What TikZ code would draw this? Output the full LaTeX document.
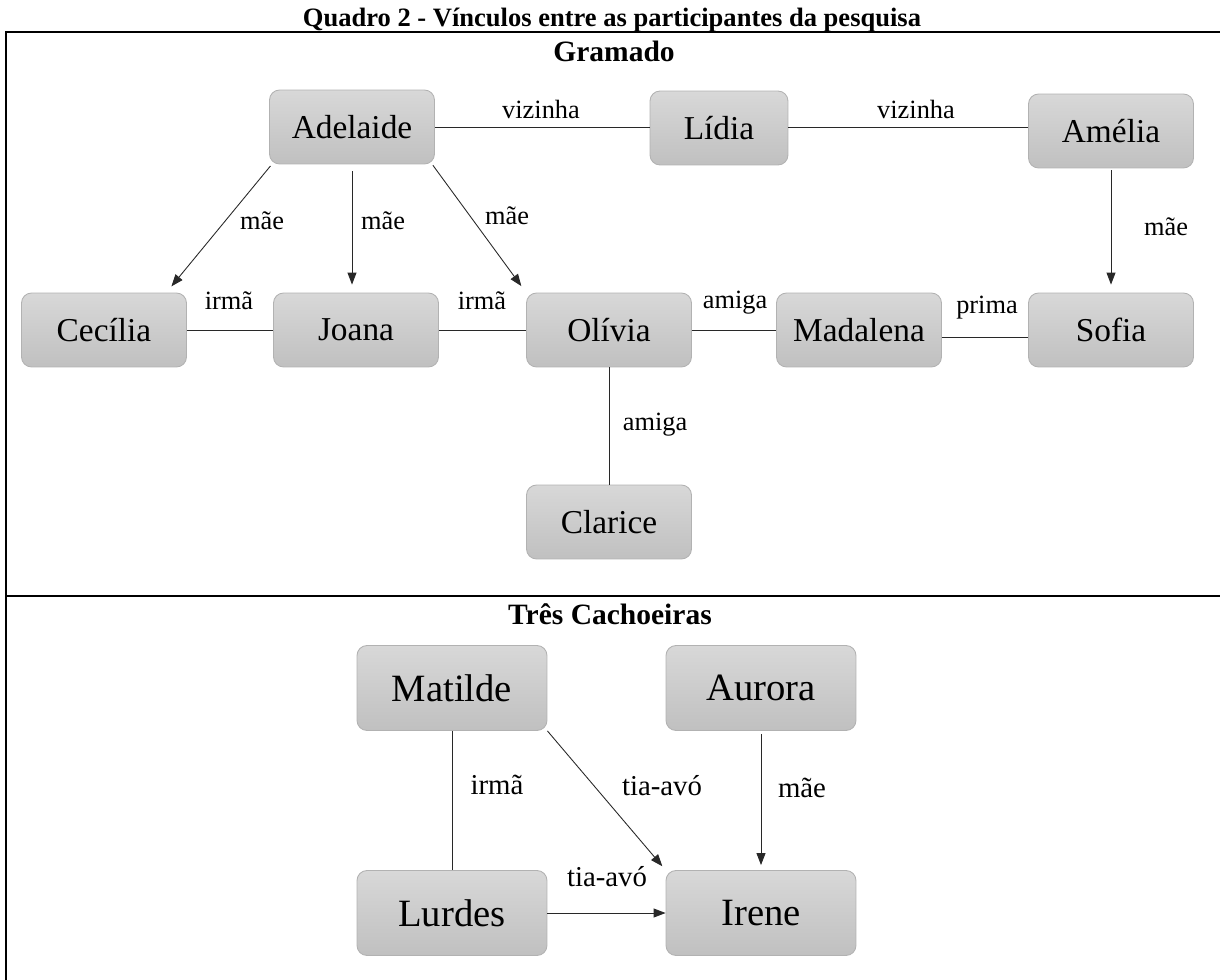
\documentclass[tikz,border=0pt]{standalone}
\usepackage{fontspec}
\setmainfont{Liberation Serif}
\usetikzlibrary{arrows.meta}
\definecolor{boxtop}{RGB}{216,216,216}
\definecolor{boxbot}{RGB}{192,192,192}
\definecolor{boxrim}{RGB}{178,178,178}
\definecolor{ink}{RGB}{40,40,40}

\begin{document}
\begin{tikzpicture}[x=0.02cm, y=-0.02cm,
    P/.style={rectangle, rounded corners=0.2cm, draw=boxrim, line width=0.5pt,
              top color=boxtop, bottom color=boxbot, minimum width=3.3cm,
              minimum height=1.48cm, inner sep=0pt, font=\fontsize{19}{22}\selectfont},
    PB/.style={P, minimum width=3.8cm, minimum height=1.7cm,
              font=\fontsize{22}{26}\selectfont},
    lab/.style={anchor=base, inner sep=0pt, font=\fontsize{15}{18}\selectfont},
    labB/.style={lab, font=\fontsize{16.4}{19}\selectfont},
    ttl/.style={anchor=base, inner sep=0pt, font=\bfseries\fontsize{16.8}{20}\selectfont},
    link/.style={draw=ink, line width=0.5pt},
    arr/.style={link, -{Triangle[length=2.4mm, width=1.8mm]}},
    frame/.style={draw=black, line width=1.3pt}]
  \useasboundingbox (0,0) rectangle (1220,980);

  % ---------- table frame and titles ---------------------------------------
  \draw[frame] (1220,32) -- (6,32) -- (6,980);
  \draw[frame] (6,596) -- (1220,596);
  \node[ttl, font=\bfseries\fontsize{15.1}{18}\selectfont] (caption) at (612,27)
    {Quadro 2 - Vínculos entre as participantes da pesquisa};
  \node[ttl] (gramado) at (614,62) {Gramado};
  \node[ttl] (tres) at (610,624) {Três Cachoeiras};

  % ---------- (1) Gramado ---------------------------------------------------
  \node[P] (adelaide) at (352,127) {Adelaide};
  \node[P, minimum width=2.76cm] (lidia) at (719,128) {Lídia};
  \node[P] (amelia)   at (1111,131) {Amélia};
  \foreach \n/\t/\x in {cecilia/Cecília/104, joana/Joana/356, olivia/Olívia/609,
                        madalena/Madalena/859, sofia/Sofia/1111} {
    \node[P] (\n) at (\x,330) {\t};
  }
  \node[P] (clarice) at (609,522) {Clarice};

  \draw[link] (adelaide) -- (adelaide -| lidia.west);
  \draw[link] (lidia.east |- adelaide) -- (adelaide -| amelia.west);
  \draw[arr, shorten <=0.04cm, shorten >=0.16cm] (adelaide.205) -- (cecilia.31);
  \draw[arr, shorten <=0.14cm, shorten >=0.16cm] (adelaide.south) -- (adelaide.south |- joana.north);
  \draw[arr, shorten <=0.02cm, shorten >=0.16cm] (adelaide.335) -- (olivia.north west);
  \draw[arr, shorten <=0.04cm, shorten >=0.16cm] (amelia) -- (sofia);
  \foreach \a/\b in {cecilia/joana, joana/olivia, olivia/madalena, olivia/clarice} {
    \draw[link] (\a) -- (\b);
  }
  \draw[link] ([yshift=-0.14cm]madalena.east) -- ([yshift=-0.14cm]sofia.west);

  \node[lab] (v1) at (541,118) {vizinha};
  \node[lab] (v2) at (916,118) {vizinha};
  \node[lab] (m1) at (262,229) {mãe};
  \node[lab] (m2) at (383,229) {mãe};
  \node[lab] (m3) at (507,224) {mãe};
  \node[lab] (m4) at (1166,235) {mãe};
  \node[lab] (i1) at (229,309) {irmã};
  \node[lab] (i2) at (482,309) {irmã};
  \node[lab] (a1) at (735,308) {amiga};
  \node[lab] (p1) at (987,313) {prima};
  \node[lab] (a2) at (655,430) {amiga};

  % ---------- (2) Tres Cachoeiras ------------------------------------------
  \node[PB] (matilde) at (452,688) {Matilde};
  \node[PB] (aurora)  at (761,688) {Aurora};
  \node[PB] (lurdes)  at (452,913) {Lurdes};
  \node[PB] (irene)   at (761,913) {Irene};

  \draw[link] (matilde) -- (lurdes);
  \draw[arr, shorten >=0.1cm] (matilde.south east) -- (irene.north west);
  \draw[arr, shorten <=0.06cm, shorten >=0.1cm] (aurora) -- (irene);
  \draw[arr] (lurdes) -- (irene);

  \node[labB] (i3) at (497,794) {irmã};
  \node[labB] (t1) at (662,795) {tia-avó};
  \node[labB] (m5) at (802,797) {mãe};
  \node[labB] (t2) at (607,886) {tia-avó};
\end{tikzpicture}
\end{document}
